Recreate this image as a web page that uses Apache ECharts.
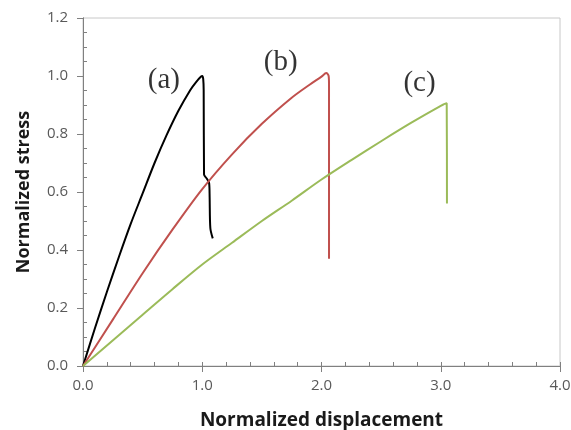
<!DOCTYPE html>
<html>
<head>
<meta charset="utf-8">
<script src="https://cdn.jsdelivr.net/npm/echarts@6/dist/echarts.min.js"></script>
<style>
  html, body { margin: 0; padding: 0; background: #fff; }
  #main { width: 571px; height: 430px; }
</style>
</head>
<body>
<div id="main"></div>
<script>
// curve (a)
const dispA = [0, 0.1, 0.2, 0.3, 0.4, 0.5, 0.6, 0.7, 0.8, 0.9, 0.95, 0.99, 1.0, 1.008, 1.012, 1.015, 1.04, 1.058, 1.062, 1.068, 1.088];
const stressA = [0, 0.13, 0.255, 0.375, 0.49, 0.595, 0.70, 0.795, 0.88, 0.952, 0.98, 0.998, 1.0, 0.99, 0.95, 0.66, 0.645, 0.63, 0.58, 0.475, 0.44];
// curve (b)
const dispB = [0, 0.25, 0.5, 0.75, 1.0, 1.25, 1.5, 1.75, 1.9, 2.0, 2.04, 2.06, 2.063, 2.063];
const stressB = [0, 0.16, 0.32, 0.47, 0.61, 0.73, 0.835, 0.925, 0.97, 0.998, 1.01, 1.0, 0.97, 0.37];
// curve (c)
const dispC = [0, 0.5, 0.75, 1.0, 1.25, 1.5, 1.75, 2.0, 2.25, 2.5, 2.75, 3.0, 3.05, 3.052];
const stressC = [0, 0.177, 0.265, 0.35, 0.425, 0.50, 0.57, 0.643, 0.71, 0.775, 0.838, 0.897, 0.906, 0.56];

const labelText = ['(a)', '(b)', '(c)'];
const labelX = [0.678, 1.658, 2.822];
const labelY = [0.986, 1.047, 0.974];

const xTicks = ['0.0', '1.0', '2.0', '3.0', '4.0'];

let pairs = function(xs, ys){
    return xs.map(function(x, i){ return [x, ys[i]]; });
};

let chart = echarts.init(document.getElementById('main'));

let axisGrey = '#808080';
let labelGrey = '#595959';
let font = '"Open Sans", sans-serif';

let option = {
    backgroundColor: '#fff',
    animation: false,
    grid: {
        left: 83, right: 11, top: 18, bottom: 64,
        outerBoundsMode: 'none', containLabel: false,
        show: true, borderColor: '#c8c8c8', borderWidth: 1
    },
    xAxis: [
        {
            type: 'value', min: 0, max: 4, interval: 1, position: 'bottom',
            axisLine: { show: true, lineStyle: { color: axisGrey, width: 1 } },
            axisTick: { show: true, length: 6, lineStyle: { color: axisGrey, width: 1 } },
            axisLabel: {
                color: labelGrey, fontSize: 15, fontFamily: font, margin: 12,
                formatter: function(v){ return xTicks[Math.round(v)]; }
            },
            splitLine: { show: false },
            name: 'Normalized displacement', nameLocation: 'middle', nameGap: 45,
            nameTextStyle: { color: '#1a1a1a', fontSize: 19, fontWeight: 'bold', fontFamily: font }
        },
        {
            // inner half of the crossing major ticks, plus minor ticks
            type: 'value', min: 0, max: 4, interval: 1, position: 'bottom',
            axisLine: { show: true, lineStyle: { color: axisGrey, width: 1 } },
            axisTick: { show: true, inside: true, length: 4, lineStyle: { color: axisGrey, width: 1 } },
            minorTick: { show: true, splitNumber: 5, length: 4, lineStyle: { color: axisGrey, width: 1 } },
            axisLabel: { show: false },
            splitLine: { show: false }
        }
    ],
    yAxis: [
        {
            type: 'value', min: 0, max: 1.2, interval: 0.2, position: 'left',
            axisLine: { show: true, lineStyle: { color: axisGrey, width: 1 } },
            axisTick: { show: true, length: 6, lineStyle: { color: axisGrey, width: 1 } },
            axisLabel: {
                color: labelGrey, fontSize: 15, fontFamily: font, margin: 15,
                formatter: function(v){ return v.toFixed(1); }
            },
            splitLine: { show: false },
            name: 'Normalized stress', nameLocation: 'middle', nameGap: 50, nameRotate: 90,
            nameTextStyle: { color: '#1a1a1a', fontSize: 18, fontWeight: 'bold', fontFamily: font }
        },
        {
            // minor ticks pointing inside
            type: 'value', min: 0, max: 1.2, interval: 0.2, position: 'left',
            axisLine: { show: true, lineStyle: { color: axisGrey, width: 1 } },
            axisTick: { show: false, inside: true, length: 4 },
            minorTick: { show: true, splitNumber: 4, length: 4, lineStyle: { color: axisGrey, width: 1 } },
            axisLabel: { show: false },
            splitLine: { show: false }
        }
    ],
    series: [
        {
            name: '(a)', type: 'line', showSymbol: false, smooth: 0.3, data: pairs(dispA, stressA),
            lineStyle: { color: '#000000', width: 2 }, itemStyle: { color: '#000000' }
        },
        {
            name: '(b)', type: 'line', showSymbol: false, smooth: 0.3, data: pairs(dispB, stressB),
            lineStyle: { color: '#c0504d', width: 2 }, itemStyle: { color: '#c0504d' }
        },
        {
            name: '(c)', type: 'line', showSymbol: false, smooth: 0.3, data: pairs(dispC, stressC),
            lineStyle: { color: '#9bbb59', width: 2 }, itemStyle: { color: '#9bbb59' }
        },
        {
            type: 'scatter', symbolSize: 0, silent: true,
            data: labelText.map(function(t, i){ return { name: t, value: [labelX[i], labelY[i]] }; }),
            label: {
                show: true, position: 'inside', color: '#000',
                fontFamily: '"Liberation Serif", "Times New Roman", serif', fontSize: 29,
                formatter: function(p){ return p.name; }
            }
        }
    ]
};

chart.setOption(option);
</script>
</body>
</html>
